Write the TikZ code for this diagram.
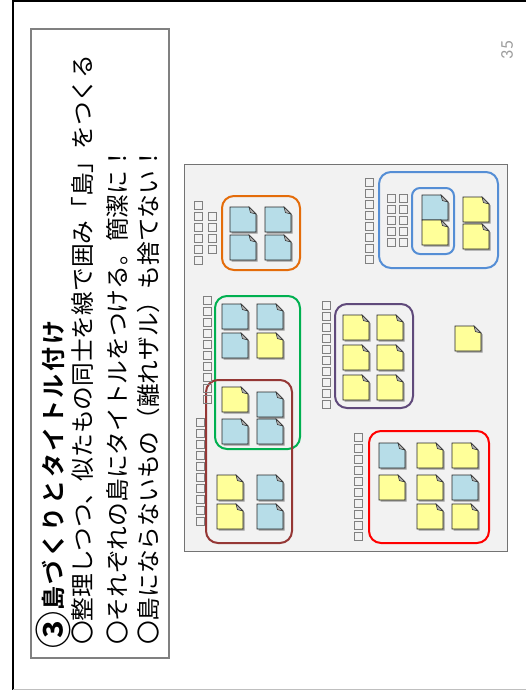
\documentclass[tikz,border=0pt]{standalone}
\usepackage{fontspec}
\newfontfamily\jpfont{Noto Sans CJK JP}[BoldFont={Noto Sans CJK JP Bold}]
\setsansfont{Carlito}
\definecolor{ilorange}{RGB}{228,108,10}
\definecolor{ilgreen}{RGB}{0,176,80}
\definecolor{ilbrown}{RGB}{149,55,53}
\definecolor{ilpurple}{RGB}{96,74,123}
\definecolor{ilblue}{RGB}{85,142,213}
\definecolor{ilred}{RGB}{255,0,0}
\definecolor{notey}{RGB}{255,255,153}
\definecolor{noteb}{RGB}{183,221,232}
\definecolor{panelgray}{RGB}{242,242,242}
\tikzset{
  stickynote/.pic={
    \fill[black!40] (1.5,1.5) -- (20.5,1.5) -- (27.5,8.5) -- (27.5,26.5) -- (1.5,26.5) -- cycle;
    \filldraw[fill=#1,draw=black!85,line width=0.8pt] (0,0) -- (19,0) -- (26,7) -- (26,25) -- (0,25) -- cycle;
    \filldraw[fill=black!30,draw=black!80,line width=0.5pt] (19,0) -- (26,7) -- (20.4,5.6) -- cycle;
  },
  island/.style={rounded corners=12pt,line width=2pt},
  tofu/.style={draw=black!50,line width=0.7pt},
  bodyline/.style={rotate=90,anchor=west,inner sep=0pt,
    font=\jpfont\fontsize{23.7}{26}\selectfont}
}

\begin{document}
\begin{tikzpicture}[x=1pt,y=-1pt]
  \useasboundingbox (0,0) rectangle (526,690);
  % slide frame
  \draw[line width=2.5pt] (13,690) -- (13,1.2) -- (526,1.2);
  \draw[black!25,line width=1pt] (13,689) -- (526,689);
  % text box
  \draw[black!50,line width=1.3pt] (31,29) rectangle (169,658);
  \node[rotate=90,anchor=west,inner sep=0pt,
    font=\jpfont\bfseries\fontsize{24}{26}\selectfont] (title) at (53,649)
    {\raisebox{-4.5pt}{\fontsize{37}{37}\selectfont ③}\kern1pt
     \foreach \ch in {島,づ,く,り,と,タ,イ,ト,ル,付,け}{\ch\kern2.6pt}};
  \node[bodyline] (line1) at (83,645) {〇整理しつつ、似たもの同士を線で囲み「島」をつくる};
  \node[bodyline] (line2) at (117,645) {〇それぞれの島にタイトルをつける。簡潔に！};
  \node[bodyline] (line3) at (148,645) {〇島にならないもの（離れザル）も捨てない！};
  \node[rotate=90,text=black!38,inner sep=0pt,font=\sffamily\fontsize{18}{19}\selectfont]
    (pageno) at (507,50) {35};
  % board
  \filldraw[fill=panelgray,draw=black!55,line width=0.8pt] (184,164) rectangle (507,551);
  \draw[island,ilorange] (222,196) rectangle (300,270);
  \draw[island,ilgreen] (215,296) rectangle (300,449);
  \draw[island,ilbrown] (206,380) rectangle (292,543);
  \draw[island,ilpurple] (335,304) rectangle (413,408);
  \draw[island,ilblue] (379,172) rectangle (498,268);
  \draw[island,ilblue,rounded corners=8pt] (412,188) rectangle (454,254);
  \draw[island,ilred] (369,431) rectangle (489,543);
  % island titles
  \foreach \x/\y/\m in {194/201/6,208/212/4,203/296/10,196/418/10,322/301/10,
                        365/178/8,387/194/5,399/194/5,354/433/10}
    \foreach \k in {1,...,\m}
      \draw[tofu] (\x,\y+11*\k-11) rectangle ++(8,8);
  % notes
  \foreach \x/\y/\c in {230/207/noteb,265/207/noteb,230/235/noteb,265/235/noteb,
      222/304/noteb,257/304/noteb,222/333/noteb,257/333/notey,
      222/387/notey,257/392/noteb,222/419/noteb,257/419/noteb,
      217/475/notey,257/475/noteb,217/504/notey,257/504/noteb,
      343/315/notey,377/315/notey,343/345/notey,377/345/notey,343/375/notey,377/375/notey,
      455/326/notey,
      422/195/noteb,422/220/notey,463/197/notey,463/224/notey,
      379/443/noteb,417/443/notey,452/443/notey,
      379/475/notey,417/475/notey,452/475/noteb,
      417/504/notey,452/504/notey}
    \pic at (\x,\y) {stickynote=\c};
\end{tikzpicture}
\end{document}
